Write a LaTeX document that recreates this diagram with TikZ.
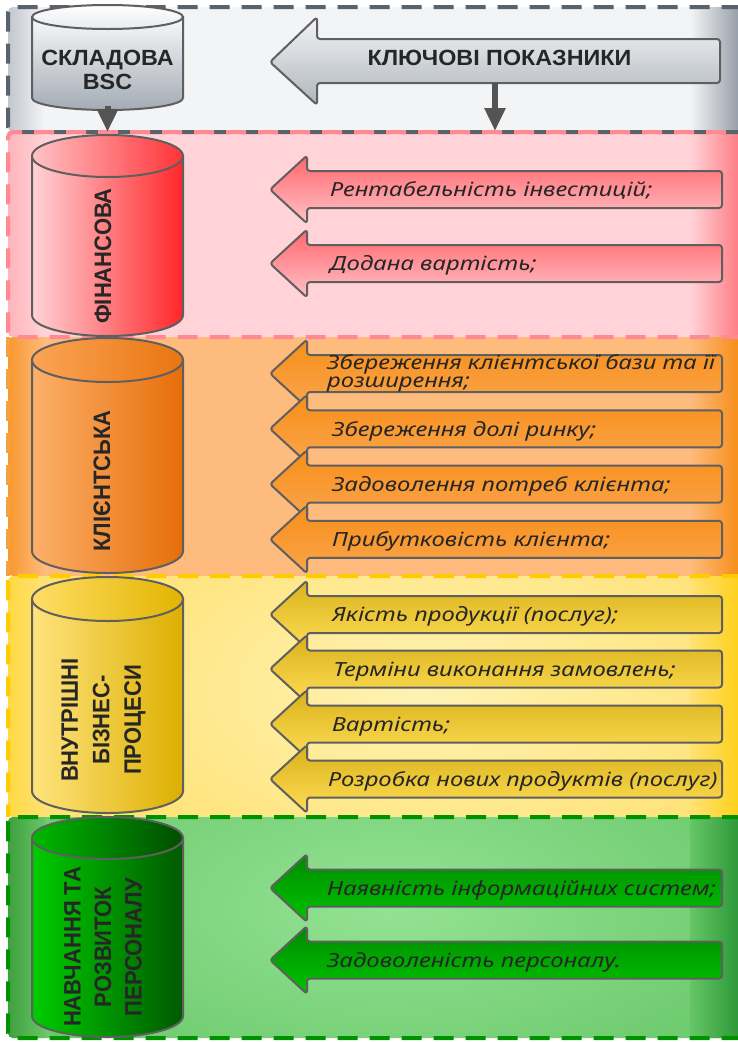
\documentclass[tikz,border=0pt]{standalone}
\usepackage{fontspec}
\setmainfont{Liberation Sans}
\newfontfamily\kpit{Noto Sans}
\usetikzlibrary{arrows.meta}

\definecolor{gBase}{HTML}{F3F4F6}\definecolor{gLeft}{HTML}{BFC5CC}\definecolor{gRight}{HTML}{9AA2AC}\definecolor{gBord}{HTML}{5A626B}
\definecolor{rBase}{HTML}{FFD3D7}\definecolor{rLeft}{HTML}{FFB3B9}\definecolor{rRight}{HTML}{FF8088}\definecolor{rBord}{HTML}{FF8A91}
\definecolor{oBase}{HTML}{FDBB7E}\definecolor{oLeft}{HTML}{F8962A}\definecolor{oRight}{HTML}{F7901C}\definecolor{oBord}{HTML}{F8A040}
\definecolor{yBase}{HTML}{FFE274}\definecolor{yGlow}{HTML}{FFF2B4}\definecolor{yLeft}{HTML}{FFD940}\definecolor{yRight}{HTML}{FFD11F}\definecolor{yBord}{HTML}{FFCC00}
\definecolor{grBase}{HTML}{66C666}\definecolor{grGlow}{HTML}{94E294}\definecolor{grLeft}{HTML}{3E9E3E}\definecolor{grRight}{HTML}{2F9A3A}\definecolor{grBord}{HTML}{009100}
\definecolor{lineC}{HTML}{5F5F5F}\definecolor{txtC}{HTML}{262626}\definecolor{arrC}{HTML}{545454}
\definecolor{ocL}{HTML}{FDB06B}\definecolor{ocR}{HTML}{E66E08}\definecolor{otL}{HTML}{FBA456}\definecolor{otR}{HTML}{E97510}
\definecolor{ycL}{HTML}{FFE47E}\definecolor{ycR}{HTML}{DCAF00}\definecolor{ytL}{HTML}{FFDE66}\definecolor{ytR}{HTML}{E2B400}

\newcommand\kps[1]{\scalebox{1.225}[1]{#1}}
\newcommand\kpv[1]{\scalebox{1}[1.08]{#1}}
\newcommand\kph[1]{\scalebox{1.06}[1]{#1}}
\newcommand\kpband[6]{% top, bottom, base, left, right, glow-cmd
  \begin{scope}
    \clip[rounded corners=5pt] (8,#1) rectangle (742,#2);
    \fill[#3] (0,#1) rectangle (750,#2);
    #6
    \shade[left color=#4, right color=#3] (6,#1) rectangle (45,#2);
    \shade[left color=#3, right color=#5] (690,#1) rectangle (737,#2);
    \fill[#5] (736.5,#1) rectangle (750,#2);
  \end{scope}}
\newcommand\kparr[3]{%
  \draw[arrline, top color=#2, bottom color=#3] (270,#1) -- (307,{#1-34}) -- (307,{#1-18.5}) -- (722,{#1-18.5}) -- (722,{#1+18.5}) -- (307,{#1+18.5}) -- (307,{#1+34}) -- cycle;}
\newcommand\kpcylbody[3]{(32,{#1+#3}) -- (32,{#2-#3}) .. controls (32,{#2-0.4477*#3}) and ({107.5-41.7},#2) .. (107.5,#2) .. controls ({107.5+41.7},#2) and (183,{#2-0.4477*#3}) .. (183,{#2-#3}) -- (183,{#1+#3}) -- cycle}
\newcommand\kpcyl[7]{%
  \draw[cylline, left color=#4, right color=#5] \kpcylbody{#1}{#2}{#3};
  \draw[cylline, left color=#6, right color=#7] (107.5,{#1+#3}) ellipse [x radius=75.5, y radius=#3];}

\tikzset{
  arrline/.style={draw=lineC, line width=2pt, rounded corners=3pt, line join=round},
  cylline/.style={draw=lineC, line width=2pt},
  border/.style={line width=4pt, dash pattern=on 20pt off 12pt, rounded corners=5pt},
  cyltext/.style={font=\bfseries\fontsize{22}{26}\selectfont, text=txtC, inner sep=0pt, align=center},
  ittext/.style={font=\kpit\itshape\fontsize{19.5}{22}\selectfont, text=txtC, inner sep=0pt, anchor=base west},
  downarr/.style={draw=arrC, line width=6pt, -{Triangle[width=20pt,length=23pt]}},
}

\begin{document}
\begin{tikzpicture}[x=1pt,y=-1pt]
\useasboundingbox (0,0) rectangle (737,1042);
\fill[white] (0,0) rectangle (737,1042);

% bands
\kpband{7}{132}{gBase}{gLeft}{gRight}{}
\kpband{132}{337}{rBase}{rLeft}{rRight}{}
\kpband{337}{576}{oBase}{oLeft}{oRight}{}
\kpband{576}{817}{yBase}{yLeft}{yRight}{\shade[inner color=yGlow, outer color=yBase] (420,690) ellipse [x radius=380, y radius=210];}
\kpband{817}{1038}{grBase}{grLeft}{grRight}{\shade[inner color=grGlow, outer color=grBase] (390,905) ellipse [x radius=480, y radius=230];}

% borders
\draw[border, draw=gBord] (742,132) -- (8,132) -- (8,7) -- (742,7);
\draw[border, draw=rBord, dash phase=16pt] (742,132) -- (8,132) -- (8,337) -- (742,337);
\draw[border, draw=oBord] (8,337) -- (8,576);
\draw[border, draw=yBord] (742,576) -- (8,576) -- (8,817);
\draw[border, draw=grBord] (742,817) -- (8,817) -- (8,1038) -- (742,1038);

% gray cylinder
\draw[cylline, top color=gBase!60!white, bottom color=gRight!90!white] \kpcylbody{5}{110}{12};
\draw[cylline, top color=white, bottom color=gBase!80!gLeft] (107.5,17) ellipse [x radius=75.5, y radius=12];
\node[cyltext, font=\bfseries\fontsize{22}{24}\selectfont] (bsc) at (107.5,70) {\kph{СКЛАДОВА}\\\kph{BSC}};

% big gray arrow
\draw[arrline, top color=gBase, bottom color=gRight!80!white] (270,62) -- (317,17) -- (317,39) -- (720,39) -- (720,83) -- (317,83) -- (317,105) -- cycle;
\node[cyltext] (kp) at (499.5,58) {\kph{КЛЮЧОВІ ПОКАЗНИКИ}};

\coordinate (cylbot) at (107.5,106);
\coordinate (redtopL) at (107.5,132);
\draw[downarr] (cylbot) -- (redtopL);
\coordinate (kpbot) at (495,83);
\coordinate (redtopR) at (495,131);
\draw[downarr] (kpbot) -- (redtopR);

% red
\kpcyl{135}{336}{21}{rBase}{red!70!rRight}{rLeft!80!white}{red!60!rRight}
\node[cyltext, rotate=90] (fin) at (103,256) {\kpv{ФІНАНСОВА}};
\kparr{189.5}{rRight!80!red}{rBase!80!rRight}
\node[ittext] (r1) at (330,196) {\kps{Рентабельність інвестицій;}};
\kparr{263.5}{rRight!80!red}{rBase!80!rRight}
\node[ittext] (r2) at (330,270) {\kps{Додана вартість;}};

% orange
\kpcyl{338}{573}{22}{ocL}{ocR}{otL}{otR}
\node[cyltext, rotate=90] (kli) at (102,481) {\kpv{КЛІЄНТСЬКА}};
\kparr{373.5}{oRight!90!orange}{oBase!40!oLeft}
\node[ittext] (o1a) at (327,369) {\kps{Збереження клієнтської бази та її}};
\node[ittext] (o1b) at (327,387) {\kps{розширення;}};
\kparr{428.8}{oRight!90!orange}{oBase!40!oLeft}
\node[ittext] (o2) at (332,436) {\kps{Збереження долі ринку;}};
\kparr{484.1}{oRight!90!orange}{oBase!40!oLeft}
\node[ittext] (o3) at (332,491) {\kps{Задоволення потреб клієнта;}};
\kparr{539.4}{oRight!90!orange}{oBase!40!oLeft}
\node[ittext] (o4) at (332,546) {\kps{Прибутковість клієнта;}};

% yellow
\kpcyl{577}{813}{22}{ycL}{ycR}{ytL}{ytR}
\node[cyltext, rotate=90, font=\bfseries\fontsize{22}{31.5}\selectfont] (vnu) at (103.5,720) {\kpv{ВНУТРІШНІ}\\\kpv{БІЗНЕС-}\\\kpv{ПРОЦЕСИ}};
\kparr{614.5}{yRight!85!black}{yLeft!60!yBase}
\node[ittext] (y1) at (332,621) {\kps{Якість продукції (послуг);}};
\kparr{669}{yRight!85!black}{yLeft!60!yBase}
\node[ittext] (y2) at (333,676) {\kps{Терміни виконання замовлень;}};
\kparr{724}{yRight!85!black}{yLeft!60!yBase}
\node[ittext] (y3) at (332,731) {\kps{Вартість;}};
\kparr{779}{yRight!85!black}{yLeft!60!yBase}
\node[ittext] (y4) at (328,786) {\kps{Розробка нових продуктів (послуг)}};

% green
\kpcyl{817}{1037}{21}{green!80!black}{green!35!black}{green!72!black}{green!30!black}
\node[cyltext, rotate=90, font=\bfseries\fontsize{22}{30.5}\selectfont] (nav) at (103,947) {\kpv{НАВЧАННЯ ТА}\\\kpv{РОЗВИТОК}\\\kpv{ПЕРСОНАЛУ}};
\kparr{888}{green!54!black}{green!77!black}
\node[ittext] (g1) at (327,895) {\kps{Наявність інформаційних систем;}};
\kparr{960}{green!54!black}{green!77!black}
\node[ittext] (g2) at (327,967) {\kps{Задоволеність персоналу.}};
\end{tikzpicture}
\end{document}
